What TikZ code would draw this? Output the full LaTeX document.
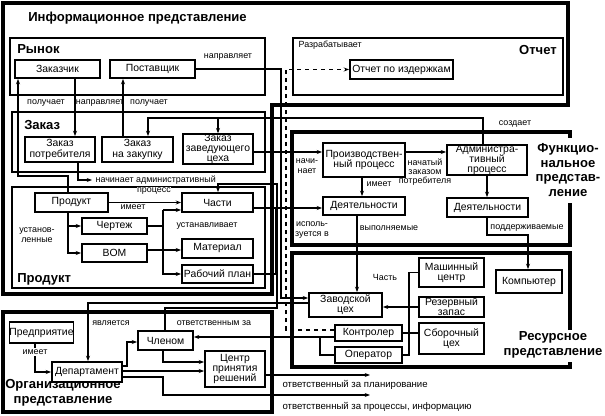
\documentclass[tikz,border=0pt]{standalone}
\usepackage{fontspec}
\setmainfont{Liberation Sans}
\usetikzlibrary{arrows.meta}

\begin{document}
\begin{tikzpicture}[
    x=0.75pt, y=-0.75pt,
    >={Stealth[length=4pt, width=3pt]},
    block/.style={draw, line width=1.4pt, fill=white, inner sep=0pt, align=center, font=\fontsize{7.8}{7.6}\selectfont},
    wh/.style 2 args={minimum width=#1*0.75pt, minimum height=#2*0.75pt},
    areabox/.style={draw, line width=1.1pt},
    viewframe/.style={draw, line width=3pt},
    link/.style={draw, line width=0.9pt},
    lbl/.style={font=\fontsize{6.7}{7}\selectfont, inner sep=1pt, align=center},
    heading/.style={font=\fontsize{9.8}{11}\selectfont\bfseries, inner sep=0pt, align=center}
]
    \useasboundingbox (0,0) rectangle (605,416);

    % Views
    \draw[viewframe] (3,3) -- (568,3) -- (568,105) -- (272,105) -- (272,294) -- (3,294) -- cycle;
    \draw[viewframe] (570,138) -- (570,132) -- (292,132) -- (292,245) -- (570,245) -- (570,203);
    \draw[viewframe] (570,330) -- (570,253) -- (292,253) -- (292,367) -- (570,367) -- (570,362);
    \draw[viewframe] (3,312) rectangle (272,412);

    % Areas of the information view
    \draw[areabox] (10,38) rectangle (265,95);
    \draw[areabox] (12,112) rectangle (265,172);
    \draw[areabox] (12,187) rectangle (265,288);
    \draw[areabox] (293,38) rectangle (563,95);

    % Headings
    \node[heading, anchor=west] (infotitle) at (28,18) {Информационное представление};
    \node[heading, anchor=west] (markettitle) at (17,49) {Рынок};
    \node[heading, anchor=west] (ordertitle) at (24,125) {Заказ};
    \node[heading, anchor=west] (producttitle) at (17,279) {Продукт};
    \node[heading, anchor=east] (reporttitle) at (557,50) {Отчет};
    \node[heading] (functitle) at (568,170) {Функцио-\\нальное\\представ-\\ление};
    \node[heading] (restitle) at (553,345) {Ресурсное\\представление};
    \node[heading] (orgtitle) at (63,393) {Организационное\\представление};

    % Information view
    \node[block, wh={85}{18}] (customer) at (57.5,69) {Заказчик};
    \node[block, wh={85}{18}] (supplier) at (152.5,69) {Поставщик};
    \node[block, wh={70}{25}] (custorder) at (60,149.5) {Заказ\\потребителя};
    \node[block, wh={71}{25}] (buyorder) at (137.5,149.5) {Заказ\\на закупку};
    \node[block, wh={70}{28}] (shoporder) at (218,149) {Заказ\\заведующего\\цеха};
    \node[block, wh={73}{19}] (product) at (71.5,202.5) {Продукт};
    \node[block, wh={71}{19}] (parts) at (217.5,202.5) {Части};
    \node[block, wh={65}{16}] (drawing) at (114.5,226) {Чертеж};
    \node[block, wh={65}{18}] (bom) at (114.5,253) {BOM};
    \node[block, wh={71}{19}] (material) at (217.5,248.5) {Материал};
    \node[block, wh={71}{18}] (workplan) at (217.5,274) {Рабочий план};
    \node[block, wh={103}{19}] (costreport) at (401.5,69.5) {Отчет по издержкам};

    % Function view
    \node[block, wh={82}{34}] (prodproc) at (364,160) {Производствен-\\ный процесс};
    \node[block, wh={80}{30}] (adminproc) at (487,160) {Администра-\\тивный\\процесс};
    \node[block, wh={82}{18}] (prodact) at (364,206) {Деятельности};
    \node[block, wh={81}{19}] (adminact) at (487.5,207.5) {Деятельности};

    % Resource view
    \node[block, wh={73}{24}] (shop) at (345.5,305) {Заводской\\цех};
    \node[block, wh={65}{29}] (machine) at (451.5,272.5) {Машинный\\центр};
    \node[block, wh={66}{23}] (computer) at (529,281.5) {Компьютер};
    \node[block, wh={65}{20}] (stock) at (451.5,307) {Резервный\\запас};
    \node[block, wh={65}{31}] (assembly) at (451.5,338.5) {Сборочный\\цех};
    \node[block, wh={67}{16}] (controller) at (368.5,333) {Контролер};
    \node[block, wh={67}{16}] (operator) at (368.5,355) {Оператор};

    % Organisation view
    \node[block, wh={63}{21}] (company) at (41.5,332.5) {Предприятие};
    \node[block, wh={70}{20}] (department) at (87,372) {Департамент};
    \node[block, wh={55}{19}] (member) at (165.5,340.5) {Членом};
    \node[block, wh={60}{36}] (decision) at (235,369) {Центр\\принятия\\решений};

    \coordinate (planend) at (370,375);
    \coordinate (procend) at (370,395);

    % Connectors
    \draw[link,->] (68,0 |- product.north) |- (18,176) -- (18,0 |- customer.south);
    \draw[link,->] (75,0 |- customer.south) -- (75,0 |- custorder.north);
    \draw[link,->] (123,0 |- buyorder.north) -- (123,0 |- supplier.south);
    \draw[link,->] (483,0 |- adminproc.north) |- (148,118) -- (148,0 |- buyorder.north);
    \draw[link,->] (218,118) -- (218,0 |- shoporder.north);
    \draw[link,->] (78,0 |- custorder.south) |- (92,180);
    \draw[link,->] (165,0 |- member.north) |- (277,308) |- (218,184) -- (218,0 |- parts.north);
    \draw[link,->] (product) -- (parts);
    \draw[link,->] (68,0 |- product.south) |- (bom.west);
    \draw[link,->] (68,0 |- drawing.west) -- (drawing.west);
    \draw[link] (drawing.east) -- (163,0 |- drawing.east);
    \draw[link,->] (163,210) -- (parts.west |- 0,210);
    \draw[link,->] (163,210) |- (workplan.west);
    \draw[link,->] (bom.east |- 0,250) -- (material.west |- 0,250);
    \draw[link,->] (parts.east |- 0,208) -- (prodact.west |- 0,208);
    \draw[link] (workplan.east) -| (276,208);
    \draw[link,->] (shoporder.east |- 0,152) -- (prodproc.west |- 0,152);
    \draw[link,->] (prodproc.east |- 0,152) -- (adminproc.west |- 0,152);
    \draw[link,->] (362,0 |- prodproc.south) -- (362,0 |- prodact.north);
    \draw[link,->] (487,0 |- adminproc.south) -- (487,0 |- adminact.north);
    \draw[link,->] (357,0 |- prodact.south) -- (357,0 |- shop.north);
    \draw[link,->] (487,0 |- adminact.south) |- (528,235) -- (528,0 |- computer.north);
    \draw[link,->] (stock.west) -- (shop.east |- stock.west);
    \draw[link] (machine.west) -| (409,0 |- operator.east) -- (operator.east);
    \draw[link] (controller.east |- 0,333) -- (assembly.west |- 0,333);
    \draw[link,dashed,->] (controller.west |- 0,330) -| (286,0 |- costreport.west) -- (costreport.west);
    \draw[link,->] (controller.west |- 0,337) -- (member.east |- 0,337);
    \draw[link] (320,337) |- (operator.west);
    \draw[link,->] (supplier.east) -| (281,298) -- (shop.west |- 0,298);
    \draw[link,->] (shop.west |- 0,303) -| (88,0 |- department.north);
    \draw[link,->] (35,0 |- company.south) |- (department.west);
    \draw[link,->] (department.east |- 0,366) -| (127,342) -- (member.west |- 0,342);
    \draw[link,->] (department.east |- 0,371) -- (decision.west |- 0,371);
    \draw[link,->] (163,0 |- member.south) |- (decision.west |- 0,362);
    \draw[link,->] (department.east |- 0,377) -| (163,395) -- (procend);
    \draw[link,->] (decision.east |- 0,375) -- (planend);

    % Labels
    \node[lbl] (l1) at (228,57) {направляет};
    \node[lbl] (l2) at (46,103) {получает};
    \node[lbl] (l3) at (100,103) {направляет};
    \node[lbl] (l4) at (149,103) {получает};
    \node[lbl, anchor=west] (l5) at (297,45) {Разрабатывает};
    \node[lbl] (l6) at (515,124) {создает};
    \node[lbl, anchor=west, fill=white] (l7) at (94,180) {начинает административный};
    \node[lbl, fill=white, inner sep=0.3pt] (l8) at (154,191) {процесс};
    \node[lbl] (l9) at (133,207) {имеет};
    \node[lbl] (l10) at (37,235) {установ-\\ленные};
    \node[lbl] (l11) at (207,226) {устанавливает};
    \node[lbl] (l12) at (307,166) {начи-\\нает};
    \node[lbl] (l13) at (379,184) {имеет};
    \node[lbl] (l14) at (425,172) {начатый\\заказом\\потребителя};
    \node[lbl] (l15) at (312,230) {исполь-\\зуется в};
    \node[lbl] (l16) at (389,228) {выполняемые};
    \node[lbl] (l17) at (527,228) {поддерживаемые};
    \node[lbl] (l18) at (385,277) {Часть};
    \node[lbl, fill=white] (l19) at (35,352) {имеет};
    \node[lbl] (l20) at (111,323) {является};
    \node[lbl] (l21) at (214,323) {ответственным за};
    \node[lbl, anchor=west, font=\fontsize{7.2}{8}\selectfont] (l22) at (281,385) {ответственный за планирование};
    \node[lbl, anchor=west, font=\fontsize{7.2}{8}\selectfont] (l23) at (281,407) {ответственный за процессы, информацию};
\end{tikzpicture}
\end{document}
